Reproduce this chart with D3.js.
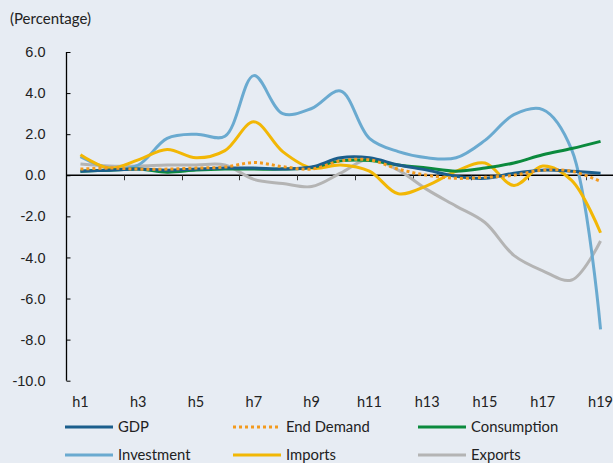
<!DOCTYPE html>
<meta charset="utf-8">
<style>
body{ margin:0; background:#e7ecf3; }
svg{ display:block; background:#e7ecf3; font-family: Lato, "Open Sans", sans-serif; }
.tick text{ fill:#222; }
</style>
<svg id="chart" width="613" height="463"></svg>
<script src="https://cdn.jsdelivr.net/npm/d3@7"></script>
<script>

var categories = ['h1','h2','h3','h4','h5','h6','h7','h8','h9','h10',
                  'h11','h12','h13','h14','h15','h16','h17','h18','h19']

var gdp         = [0.2, 0.25, 0.3, 0.25, 0.3, 0.35, 0.35, 0.3, 0.4, 0.85, 0.85, 0.5, 0.25, -0.05, -0.15, 0.1, 0.25, 0.2, 0.1]
var endDemand   = [0.3, 0.35, 0.3, 0.3, 0.35, 0.4, 0.62, 0.42, 0.3, 0.7, 0.75, 0.3, 0.0, -0.15, -0.1, 0.0, 0.25, 0.2, -0.3]
var consumption = [0.2, 0.25, 0.3, 0.15, 0.25, 0.3, 0.3, 0.3, 0.38, 0.7, 0.72, 0.5, 0.35, 0.2, 0.35, 0.6, 1.0, 1.3, 1.65]
var investment  = [0.9, 0.35, 0.5, 1.8, 2.0, 1.9, 4.85, 3.0, 3.25, 4.1, 1.8, 1.15, 0.85, 0.85, 1.7, 2.95, 3.2, 1.25, -7.5]
var imports     = [1.0, 0.35, 0.75, 1.25, 0.85, 1.2, 2.6, 1.15, 0.35, 0.5, 0.2, -0.9, -0.5, 0.2, 0.6, -0.5, 0.45, -0.25, -2.8]
var exports     = [0.55, 0.45, 0.45, 0.5, 0.5, 0.5, -0.2, -0.4, -0.55, 0.1, 0.8, 0.25, -0.7, -1.5, -2.3, -3.9, -4.65, -5.1, -3.2]

var yTicks = [6, 4, 2, 0, -2, -4, -6, -8, -10]
var xLabels = ['h1','h3','h5','h7','h9','h11','h13','h15','h17','h19']

var series = [
  {name: 'GDP',         values: gdp,         color: '#1b5e8c', dash: null},
  {name: 'End Demand',  values: endDemand,   color: '#f39a1e', dash: '3,3'},
  {name: 'Consumption', values: consumption, color: '#0b8a3d', dash: null},
  {name: 'Investment',  values: investment,  color: '#6aaad0', dash: null},
  {name: 'Imports',     values: imports,     color: '#f2b705', dash: null},
  {name: 'Exports',     values: exports,     color: '#b4b4b4', dash: null}
]

var svg = d3.select('#chart')

var x = d3.scaleBand().domain(categories).range([66, 615])
var y = d3.scaleLinear().domain([-10, 6]).range([380.7, 52])

svg.append('text')
    .attr('x', 10).attr('y', 24)
    .style('font-size', '15px').style('fill', '#222')
    .text('(Percentage)')

// y axis, plain hyphen for negatives
var fmt = function(d){ return d3.format('.1f')(d).replace('\u2212', '-') }
var yAxis = svg.append('g')
    .attr('transform', 'translate(66.5,0)')
    .call(d3.axisRight(y).tickValues(yTicks).tickSize(4).tickFormat(fmt))
yAxis.select('.domain').attr('d', 'M0,' + y(6) + 'V' + y(-10)).attr('stroke', '#000').attr('stroke-width', 1.3)
yAxis.selectAll('.tick line').attr('stroke', '#000')
yAxis.selectAll('.tick text')
    .attr('x', -21).attr('text-anchor', 'end')
    .style('font-size', '14.5px')

// x axis at zero, ticks every other band boundary
var boundaries = categories.filter(function(d, i){ return i % 2 == 1 && i < 18 })
var xAxis = svg.append('g').attr('transform', 'translate(0,' + y(0) + ')')
xAxis.append('line')
    .attr('x1', 66).attr('x2', 615)
    .attr('stroke', '#000').attr('stroke-width', 1.3)
xAxis.selectAll('.xt').data(boundaries).enter().append('line')
    .attr('x1', function(d){ return Math.round(x(d) + x.bandwidth()) + 0.5 })
    .attr('x2', function(d){ return Math.round(x(d) + x.bandwidth()) + 0.5 })
    .attr('y1', 0).attr('y2', 5)
    .attr('stroke', '#333')

svg.selectAll('.xl').data(xLabels).enter().append('text')
    .attr('x', function(d){ return x(d) + x.bandwidth() / 2 })
    .attr('y', 407)
    .attr('text-anchor', 'middle')
    .style('font-size', '14.5px').style('fill', '#222')
    .text(function(d){ return d })

// lines
var line = d3.line()
    .x(function(d, i){ return x(categories[i]) + x.bandwidth() / 2 })
    .y(function(d){ return y(d) })
    .curve(d3.curveCatmullRom.alpha(0.5))

var order = [5, 3, 4, 2, 0, 1]
order.forEach(function(k){
  var s = series[k]
  svg.append('path')
      .attr('d', line(s.values))
      .attr('fill', 'none')
      .attr('stroke', s.color)
      .attr('stroke-width', 3)
      .attr('stroke-dasharray', s.dash)
})

// legend
var legX = [65, 233, 418], legY = [427, 455]
series.forEach(function(s, i){
  var g = svg.append('g')
      .attr('transform', 'translate(' + legX[i % 3] + ',' + legY[Math.floor(i / 3)] + ')')
  g.append('line')
      .attr('x1', 0).attr('x2', 48)
      .attr('stroke', s.color).attr('stroke-width', 3)
      .attr('stroke-dasharray', s.dash)
  g.append('text')
      .attr('x', 53).attr('y', 5)
      .style('font-size', '14.8px').style('fill', '#222')
      .text(s.name)
})

</script>
